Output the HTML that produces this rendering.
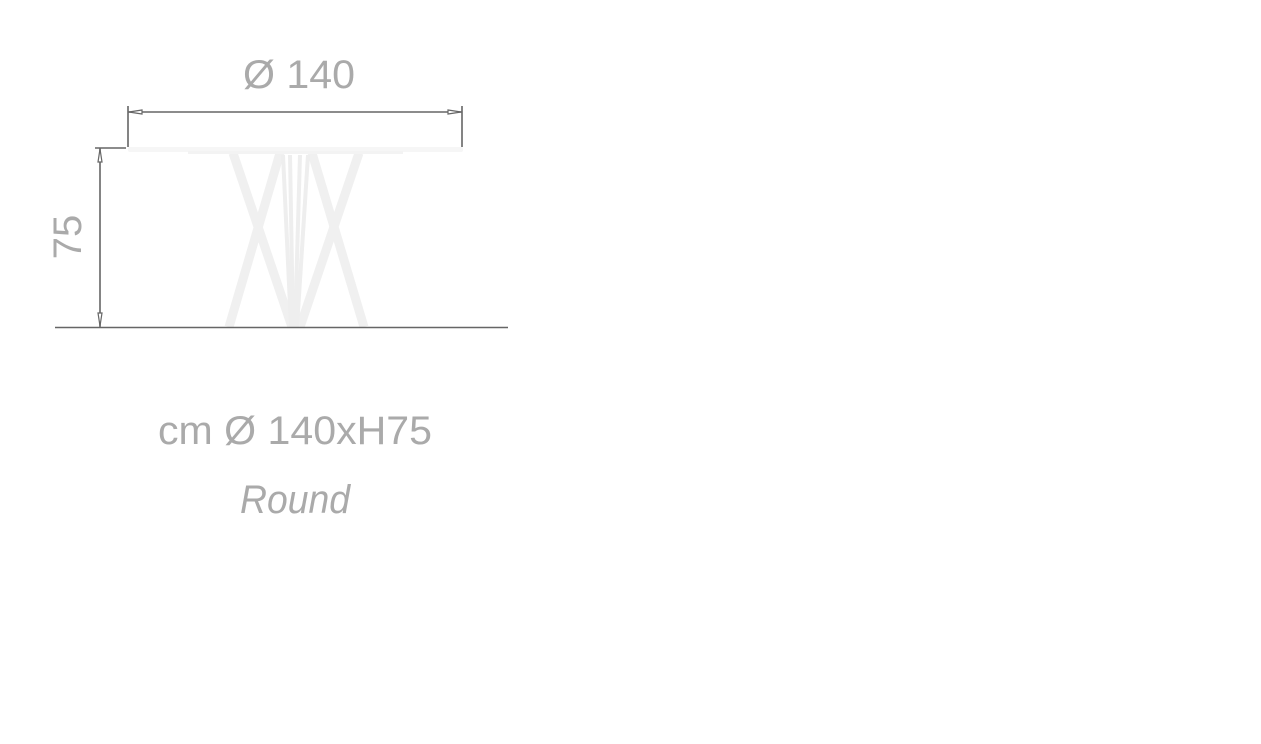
<!DOCTYPE html>
<html><head><meta charset="utf-8"><style>html,body{margin:0;padding:0;background:#fff}svg{display:block}</style></head>
<body>
<svg width="1261" height="744" viewBox="0 0 1261 744" xmlns="http://www.w3.org/2000/svg">
<g stroke="#f0f0f0" stroke-width="9" fill="none" stroke-linecap="butt">
<line x1="233" y1="153" x2="292" y2="327"/>
<line x1="280" y1="153" x2="229" y2="327"/>
<line x1="312" y1="153" x2="364" y2="327"/>
<line x1="359" y1="153" x2="300" y2="327"/>
</g>
<g stroke="#eeeeee" stroke-width="4" fill="none">
<line x1="283" y1="155" x2="291" y2="327"/>
<line x1="290" y1="155" x2="293" y2="327"/>
<line x1="300" y1="155" x2="295" y2="327"/>
<line x1="308" y1="155" x2="297" y2="327"/>
</g>
<rect x="128" y="147" width="335" height="5" rx="2" fill="#f6f6f6"/>
<rect x="188" y="151" width="215" height="3" fill="#f3f3f3"/>
<g stroke="#666" stroke-width="1.6" fill="none">
<line x1="128" y1="106" x2="128" y2="147"/>
<line x1="462" y1="106" x2="462" y2="147"/>
<line x1="128" y1="112" x2="462" y2="112"/>
<line x1="95" y1="148" x2="126" y2="148"/>
<line x1="100" y1="148" x2="100" y2="327"/>
<line x1="55" y1="327.5" x2="508" y2="327.5"/>
</g>
<g fill="#fff" stroke="#666" stroke-width="1.2">
<polygon points="129,112 142,110 142,114"/>
<polygon points="461,112 448,110 448,114"/>
<polygon points="100,149 98,162 102,162"/>
<polygon points="100,326 98,313 102,313"/>
</g>
<g fill="#aaa" font-family="Liberation Sans, sans-serif">
<text x="299" y="88" font-size="40" text-anchor="middle" textLength="112" lengthAdjust="spacingAndGlyphs">Ø 140</text>
<text x="295" y="444" font-size="40" text-anchor="middle" textLength="274" lengthAdjust="spacingAndGlyphs">cm Ø 140xH75</text>
<text x="295" y="513" font-size="40" font-style="italic" text-anchor="middle" textLength="110" lengthAdjust="spacingAndGlyphs">Round</text>
<text transform="translate(81,237) rotate(-90)" font-size="40" text-anchor="middle">75</text>
</g>
</svg>
</body></html>
